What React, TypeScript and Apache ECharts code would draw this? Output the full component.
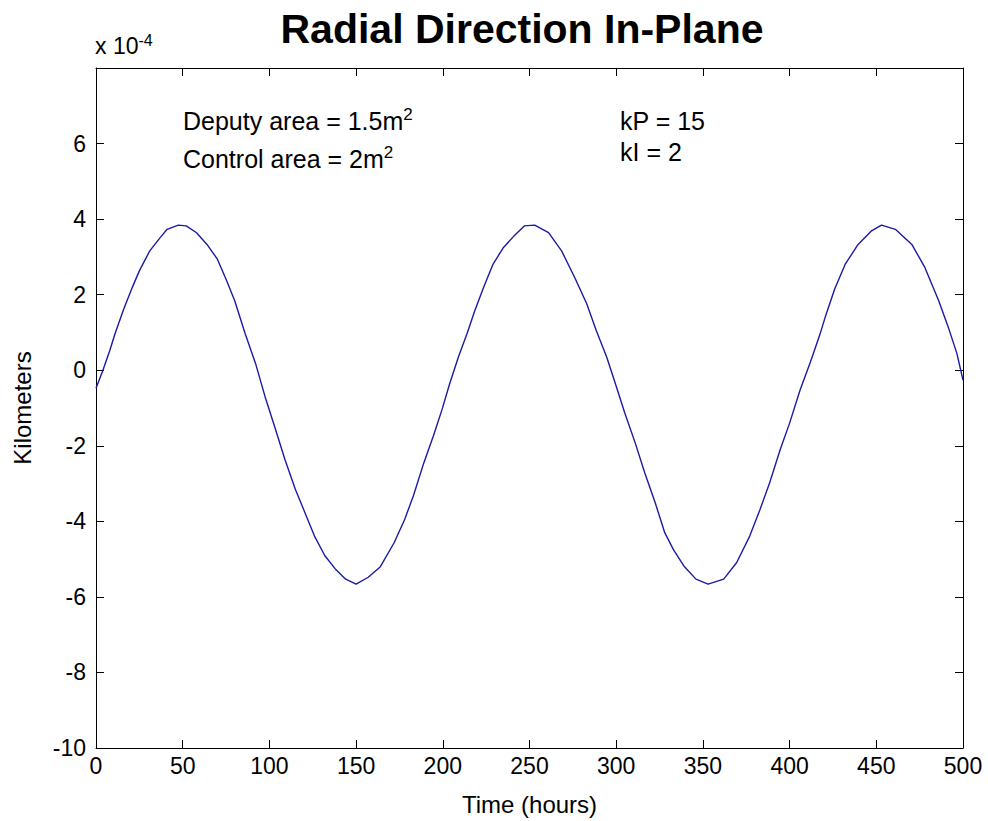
import React, { useEffect, useRef } from "react";
import * as echarts from "echarts";

// Time (hours) and radial displacement (units of 1e-4 km)
const hours = [
  0, 4, 8, 11, 16, 21, 25, 31, 37, 41, 47.5, 52, 58, 64, 70, 75, 80, 86, 92, 97.5,
  103, 109, 115, 120.5, 126, 132, 138, 144, 150, 157, 164, 172, 178, 183, 189, 194.5,
  199.5, 204, 209, 214, 218.5, 223.5, 229, 235, 241, 247, 253, 261, 268.5, 276, 283,
  288.5, 294.5, 299.5, 305, 311, 316.5, 322.5, 328, 333, 339, 346, 353, 362, 369.5,
  377, 383, 388.5, 394.5, 400, 406, 412, 414.5, 417.5, 420.5, 426, 432, 439.5, 447,
  453, 461, 470.5, 478, 486, 491.5, 496.5, 500,
];
const radial = [
  -0.48, 0.0, 0.53, 0.97, 1.62, 2.2, 2.63, 3.16, 3.51, 3.73, 3.84, 3.82, 3.64, 3.33,
  2.94, 2.41, 1.84, 0.97, 0.18, -0.7, -1.49, -2.37, -3.16, -3.77, -4.39, -4.91, -5.26,
  -5.53, -5.66, -5.48, -5.2, -4.56, -3.95, -3.33, -2.46, -1.75, -1.05, -0.35, 0.35,
  0.97, 1.58, 2.19, 2.81, 3.25, 3.55, 3.82, 3.84, 3.64, 3.16, 2.46, 1.76, 1.05, 0.35,
  -0.35, -1.14, -1.93, -2.72, -3.51, -4.3, -4.75, -5.18, -5.53, -5.66, -5.53, -5.09,
  -4.39, -3.68, -2.98, -2.11, -1.4, -0.53, 0.22, 0.55, 0.95, 1.4, 2.15, 2.8, 3.33,
  3.68, 3.84, 3.73, 3.33, 2.72, 1.84, 1.14, 0.44, -0.26,
];

const xTicks = { min: 0, max: 500, interval: 50 };
const yTicks = { min: -10, max: 8, interval: 2 };

const titleText = "Radial Direction In-Plane";
const xName = "Time (hours)";
const yName = "Kilometers";
const notesLeft = ["Deputy area = 1.5m", "Control area = 2m"];
const notesRight = ["kP = 15", "kI = 2"];

const FONT = "'Liberation Sans', Arial, Helvetica, sans-serif";

export default function App() {
  const ref = useRef<HTMLDivElement>(null);
  useEffect(() => {
    if (!ref.current) return;
    const chart = echarts.init(ref.current, undefined, { renderer: "svg" });
    const data = hours.map((h, i) => [h, radial[i]]);
    const axisCommon = {
      axisLine: { show: true, onZero: false, lineStyle: { color: "#000", width: 1 } },
      axisTick: { show: true, inside: true, length: 8, lineStyle: { color: "#000" } },
      splitLine: { show: false },
    };
    const noteStyle = { fontSize: 25, fontFamily: FONT, fill: "#000" };
    const rich = {
      a: { fontSize: 25, fontFamily: FONT, color: "#000", lineHeight: 30 },
      s: { fontSize: 17, fontFamily: FONT, color: "#000", lineHeight: 30, verticalAlign: "top", padding: [0, 0, 14, 0] },
    };
    chart.setOption({
      animation: false,
      backgroundColor: "#fff",
      grid: { left: 96, right: 25, top: 68, bottom: 73, containLabel: false },
      xAxis: [
        {
          type: "value",
          ...xTicks,
          position: "bottom",
          ...axisCommon,
          axisLabel: { color: "#000", fontSize: 23, fontFamily: FONT, margin: 6 },
          name: xName,
          nameLocation: "middle",
          nameGap: 44,
          nameTextStyle: { color: "#000", fontSize: 24, fontFamily: FONT },
        },
        {
          type: "value",
          ...xTicks,
          position: "top",
          ...axisCommon,
          axisLabel: { show: false },
        },
      ],
      yAxis: [
        {
          type: "value",
          ...yTicks,
          position: "left",
          ...axisCommon,
          axisLabel: {
            color: "#000",
            fontSize: 23,
            fontFamily: FONT,
            margin: 10,
            formatter: (v: number) => (v === 8 ? "" : String(v)),
          },
          name: yName,
          nameLocation: "middle",
          nameRotate: 90,
          nameGap: 62,
          nameTextStyle: { color: "#000", fontSize: 24, fontFamily: FONT },
        },
        {
          type: "value",
          ...yTicks,
          position: "right",
          ...axisCommon,
          axisLabel: { show: false },
        },
      ],
      series: [
        {
          type: "line",
          data,
          showSymbol: false,
          smooth: false,
          lineStyle: { color: "#1a1aa6", width: 1.4 },
          xAxisIndex: 0,
          yAxisIndex: 0,
        },
      ],
      graphic: [
        {
          type: "text",
          x: 522,
          y: 29,
          style: { text: titleText, fontSize: 41, fontWeight: "bold", fontFamily: FONT, fill: "#000", textAlign: "center", textVerticalAlign: "middle" },
        },
        {
          type: "text",
          x: 95,
          y: 32,
          style: { text: "{a|x 10}{s|-4}", rich: { a: { fontSize: 23, fontFamily: FONT, color: "#000", lineHeight: 28 }, s: { fontSize: 16, fontFamily: FONT, color: "#000", lineHeight: 28, verticalAlign: "top", padding: [0, 0, 16, 0] } } },
        },
        {
          type: "text",
          x: 183,
          y: 106,
          style: { text: `{a|${notesLeft[0]}}{s|2}`, rich },
        },
        {
          type: "text",
          x: 183,
          y: 144,
          style: { text: `{a|${notesLeft[1]}}{s|2}`, rich },
        },
        {
          type: "text",
          x: 620,
          y: 121,
          style: { text: notesRight[0], ...noteStyle, textVerticalAlign: "middle" },
        },
        {
          type: "text",
          x: 620,
          y: 152,
          style: { text: notesRight[1], ...noteStyle, textVerticalAlign: "middle" },
        },
      ],
    });
    return () => chart.dispose();
  }, []);
  return (
    <div
      ref={ref}
      style={{ position: "fixed", left: 0, top: 0, width: 988, height: 821, background: "#fff" }}
    />
  );
}
